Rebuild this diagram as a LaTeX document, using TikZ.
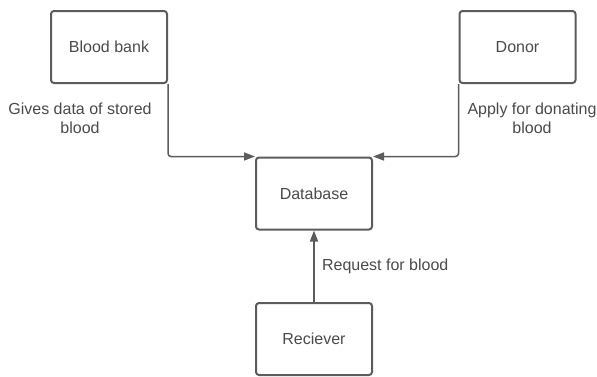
\documentclass[tikz,border=0pt]{standalone}
\usepackage{fontspec}
\setmainfont{Liberation Sans}
\usetikzlibrary{arrows.meta}
\usetikzlibrary{positioning}
\definecolor{linegray}{HTML}{5C5C5C}
\definecolor{textgray}{HTML}{4A4A4A}
\tikzset{
  entity/.style={draw=linegray,line width=2pt,rounded corners=3pt,
    minimum width=116pt,minimum height=72pt,text=textgray,
    font=\fontsize{16}{19}\selectfont},
  flow/.style={draw=linegray,line width=1.5pt,rounded corners=3pt,
    -{Triangle[length=11pt,width=8pt]}},
  flowlabel/.style={text=textgray,align=center,
    font=\fontsize{16}{19}\selectfont}
}

\begin{document}
\begin{tikzpicture}[x=1pt,y=1pt]
    \useasboundingbox (0,0) rectangle (597,376);
    \node[entity] (bank) at (109,329) {Blood bank};
    \node[entity] (donor) at (517.5,329) {Donor};
    \node[entity] (db) at (314,182.5) {Database};
    \node[entity] (recv) at (314,37) {Reciever};
    %
    \node[flowlabel] (banklbl) at (80,258) {Gives data of stored\\blood};
    \node[flowlabel] (donorlbl) at (532,258) {Apply for donating\\blood};
    %
    \draw[flow] (bank.south east) |- (db.north west);
    \draw[flow] (donor.south west) |- (db.north east);
    \draw[flow] (recv.north) -- node[flowlabel,right=4pt] (reqlbl) {Request for blood} (db.south);
\end{tikzpicture}
\end{document}
